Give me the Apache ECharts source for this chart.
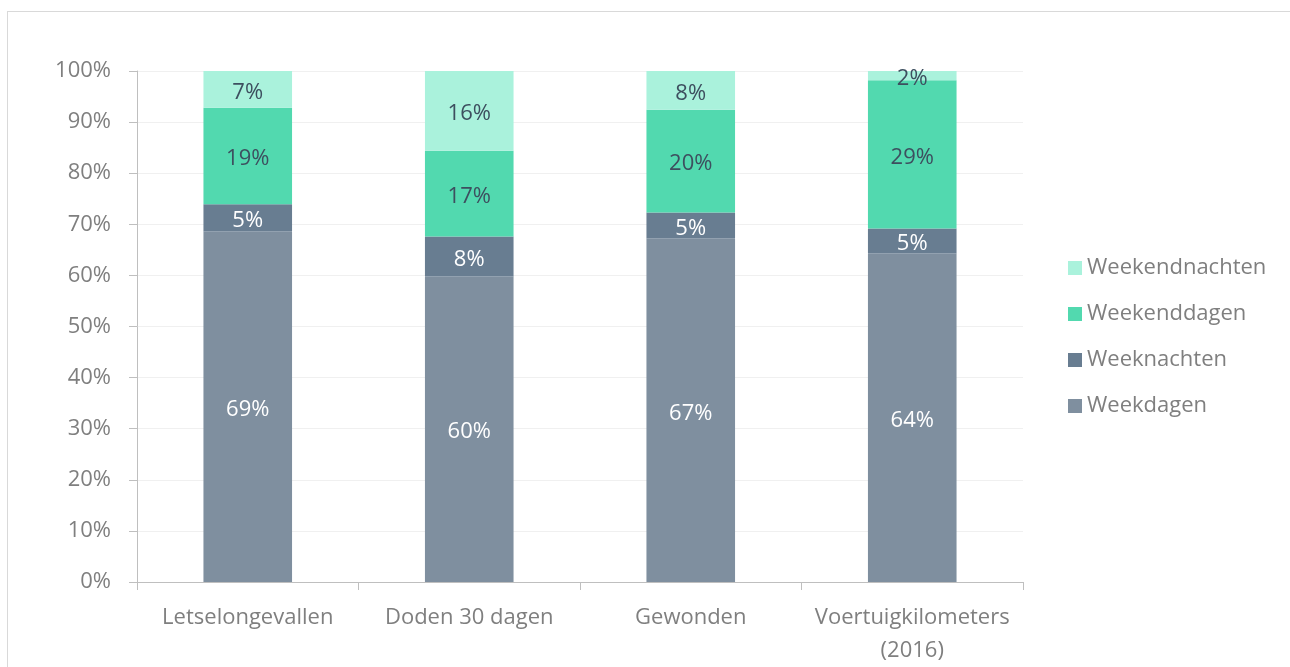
<!DOCTYPE html>
<html><head><meta charset="utf-8">
<script src="https://cdn.jsdelivr.net/npm/echarts@6/dist/echarts.min.js"></script>
<style>html,body{margin:0;padding:0;background:#fff;overflow:hidden;width:1290px;height:667px;position:relative}#c{position:absolute;left:0;top:0;width:1290px;height:667px}
#frame{position:absolute;left:7px;top:11px;width:1300px;height:700px;border:1px solid #d9d9d9;pointer-events:none;box-sizing:border-box}</style>
</head><body><div id="c"></div><div id="frame"></div>
<script>
const categories = ['Letselongevallen', 'Doden 30 dagen', 'Gewonden', 'Voertuigkilometers\n(2016)'];
const weekdagen = [68.6, 59.8, 67.2, 64.3];
const weeknachten = [5.3, 7.8, 5.1, 4.9];
const weekenddagen = [18.9, 16.8, 20.1, 29.0];
const weekendnachten = [7.2, 15.6, 7.6, 1.8];
const yTicks = [0, 10, 20, 30, 40, 50, 60, 70, 80, 90, 100];

const FONT = 'Open Sans';
const FS = 22;
const chart = echarts.init(document.getElementById('c'));
function mk(name, data, color, labelColor) {
  return {
    name, type: 'bar', stack: 'a', data, barWidth: '40%',
    itemStyle: { color },
    label: { show: true, position: 'inside', offset: [0, 3], color: labelColor, fontSize: FS, fontFamily: FONT,
      formatter: p => Math.round(p.value) + '%' },
    emphasis: { disabled: true }
  };
}
chart.setOption({
  animation: false,
  textStyle: { fontFamily: FONT },
  grid: { left: 137, right: 267, top: 71, bottom: 81 },
  legend: {
    orient: 'vertical', left: 1063, top: 252, itemGap: 24,
    itemWidth: 14, itemHeight: 14, icon: 'rect',
    textStyle: { fontSize: FS, color: '#7f7f7f', fontFamily: FONT },
    data: ['Weekendnachten', 'Weekenddagen', 'Weeknachten', 'Weekdagen']
  },
  xAxis: {
    type: 'category', data: categories,
    axisLine: { lineStyle: { color: '#bfbfbf' } },
    axisTick: { show: true, length: 8, lineStyle: { color: '#bfbfbf' } },
    axisLabel: { interval: 0, fontSize: FS, color: '#7f7f7f', margin: 19, lineHeight: 33, fontFamily: FONT }
  },
  yAxis: {
    type: 'value', min: 0, max: 100, interval: 10,
    axisLine: { show: true, lineStyle: { color: '#bfbfbf' } },
    axisTick: { show: true, length: 8, lineStyle: { color: '#bfbfbf' } },
    splitLine: { lineStyle: { color: '#f0f0f0' } },
    axisLabel: { fontSize: FS, color: '#7f7f7f', margin: 26, fontFamily: FONT,
      formatter: v => yTicks.includes(v) ? v + '%' : '' }
  },
  series: [
    mk('Weekdagen', weekdagen, '#7f8f9f', '#ffffff'),
    mk('Weeknachten', weeknachten, '#687d91', '#ffffff'),
    mk('Weekenddagen', weekenddagen, '#52d9af', '#3d4f5f'),
    mk('Weekendnachten', weekendnachten, '#aaf2dc', '#3d4f5f')
  ]
});
</script></body></html>
